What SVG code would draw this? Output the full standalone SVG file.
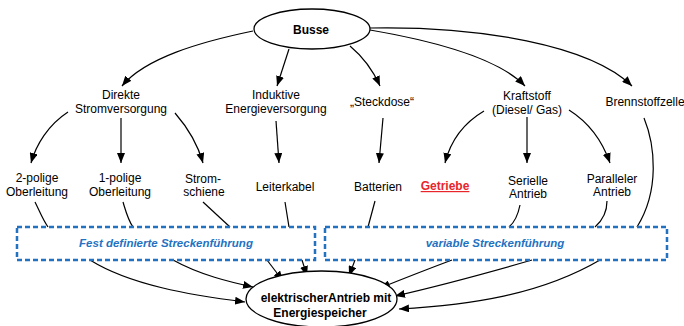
<svg xmlns="http://www.w3.org/2000/svg" width="684" height="326" viewBox="0 0 684 326">
<defs>
<marker id="arr" markerUnits="userSpaceOnUse" markerWidth="10" markerHeight="8" refX="10" refY="4" orient="auto">
<path d="M0,0 L10,4 L0,8 z" fill="#000"/>
</marker>
<style>
text{font-family:"Liberation Sans",Arial,sans-serif;font-size:12px;fill:#000;text-anchor:middle}
.b{font-weight:bold}
.blue{fill:#2372C2;font-weight:bold;font-style:italic;font-size:11.5px}
.red{fill:#E8252B;font-weight:bold;text-decoration:underline}
.c{fill:none;stroke:#000;stroke-width:1.2}
.a{marker-end:url(#arr)}
.box{fill:none;stroke:#2372C2;stroke-width:2.5;stroke-dasharray:5 3}
.ell{fill:#fff;stroke:#000;stroke-width:1.3}
</style>
</defs>
<rect width="684" height="326" fill="#fff"/>
<g id="connectors">
<path class="c a" d="M253,31 C200,42 145,58 122,86"/>
<path class="c a" d="M289,49 L277,86"/>
<path class="c a" d="M350,46 C362,56 372,68 380,86"/>
<path class="c a" d="M370,30 C440,42 500,60 525,86"/>
<path class="c a" d="M370,28 C480,26 590,45 632,86"/>
<path class="c a" d="M68,112 C48,125 36,145 31,163"/>
<path class="c a" d="M121,118 L121,163"/>
<path class="c a" d="M175,113 C188,128 198,145 203,163"/>
<path class="c a" d="M276,121 L279,163"/>
<path class="c a" d="M383,118 L379,163"/>
<path class="c a" d="M484,111 C462,124 450,143 445,163"/>
<path class="c a" d="M527,117 L527,163"/>
<path class="c a" d="M569,110 C588,122 602,140 610,163"/>
<path class="c" d="M644,118 C655,145 660,190 637,227"/>
<path class="c" d="M35,202 C40,212 43,220 48,227"/>
<path class="c" d="M123,202 C126,212 128,220 133,227"/>
<path class="c" d="M203,202 L230,227"/>
<path class="c" d="M285,202 L289,227"/>
<path class="c" d="M375,201 L368,227"/>
<path class="c" d="M520,205 C518,215 515,222 509,227"/>
<path class="c" d="M607,201 C607,212 603,220 595,227"/>
<path class="c a" d="M90,260 C130,285 190,295 245,302"/>
<path class="c a" d="M173,260 C200,275 230,282 253,287"/>
<path class="c a" d="M267,260 L283,281"/>
<path class="c a" d="M302,260 L307,276"/>
<path class="c a" d="M355,260 L349,276"/>
<path class="c a" d="M452,260 C420,272 400,280 380,288"/>
<path class="c a" d="M532,260 C480,275 430,288 395,296"/>
<path class="c a" d="M600,260 C540,295 470,305 399,309"/>
</g>
<g id="busse">
<ellipse class="ell" cx="312" cy="29" rx="58" ry="20"/>
<text class="b" x="311" y="34">Busse</text>
</g>
<g id="direkte"><text x="121" y="99">Direkte</text><text x="121" y="113">Stromversorgung</text></g>
<g id="induktive"><text x="276" y="99">Induktive</text><text x="276" y="113">Energieversorgung</text></g>
<g id="steckdose"><text x="382" y="106">„Steckdose“</text></g>
<g id="kraftstoff"><text x="527" y="100">Kraftstoff</text><text x="527" y="114">(Diesel/ Gas)</text></g>
<g id="brennstoffzelle"><text x="645" y="106">Brennstoffzelle</text></g>
<g id="zweipolig"><text x="37" y="182">2-polige</text><text x="37" y="196">Oberleitung</text></g>
<g id="einpolig"><text x="120" y="182">1-polige</text><text x="120" y="196">Oberleitung</text></g>
<g id="stromschiene"><text x="203" y="183">Strom-</text><text x="204" y="196">schiene</text></g>
<g id="leiterkabel"><text x="285" y="191">Leiterkabel</text></g>
<g id="batterien"><text x="378" y="191">Batterien</text></g>
<g id="getriebe"><text class="red" x="445" y="190">Getriebe</text></g>
<g id="serielle"><text x="528" y="185">Serielle</text><text x="528" y="198">Antrieb</text></g>
<g id="paralleler"><text x="612" y="183">Paralleler</text><text x="612" y="196">Antrieb</text></g>
<g id="fest">
<rect class="box" x="17" y="227" width="298" height="33"/>
<text class="blue" x="166" y="247">Fest definierte Streckenführung</text>
</g>
<g id="variabel">
<rect class="box" x="325" y="227" width="342" height="33"/>
<text class="blue" x="495" y="247">variable Streckenführung</text>
</g>
<g id="antrieb">
<ellipse class="ell" cx="321.5" cy="299" rx="75.5" ry="28"/>
<text class="b" x="326" y="302">elektrischerAntrieb mit</text>
<text class="b" x="320" y="317">Energiespeicher</text>
</g>
</svg>
